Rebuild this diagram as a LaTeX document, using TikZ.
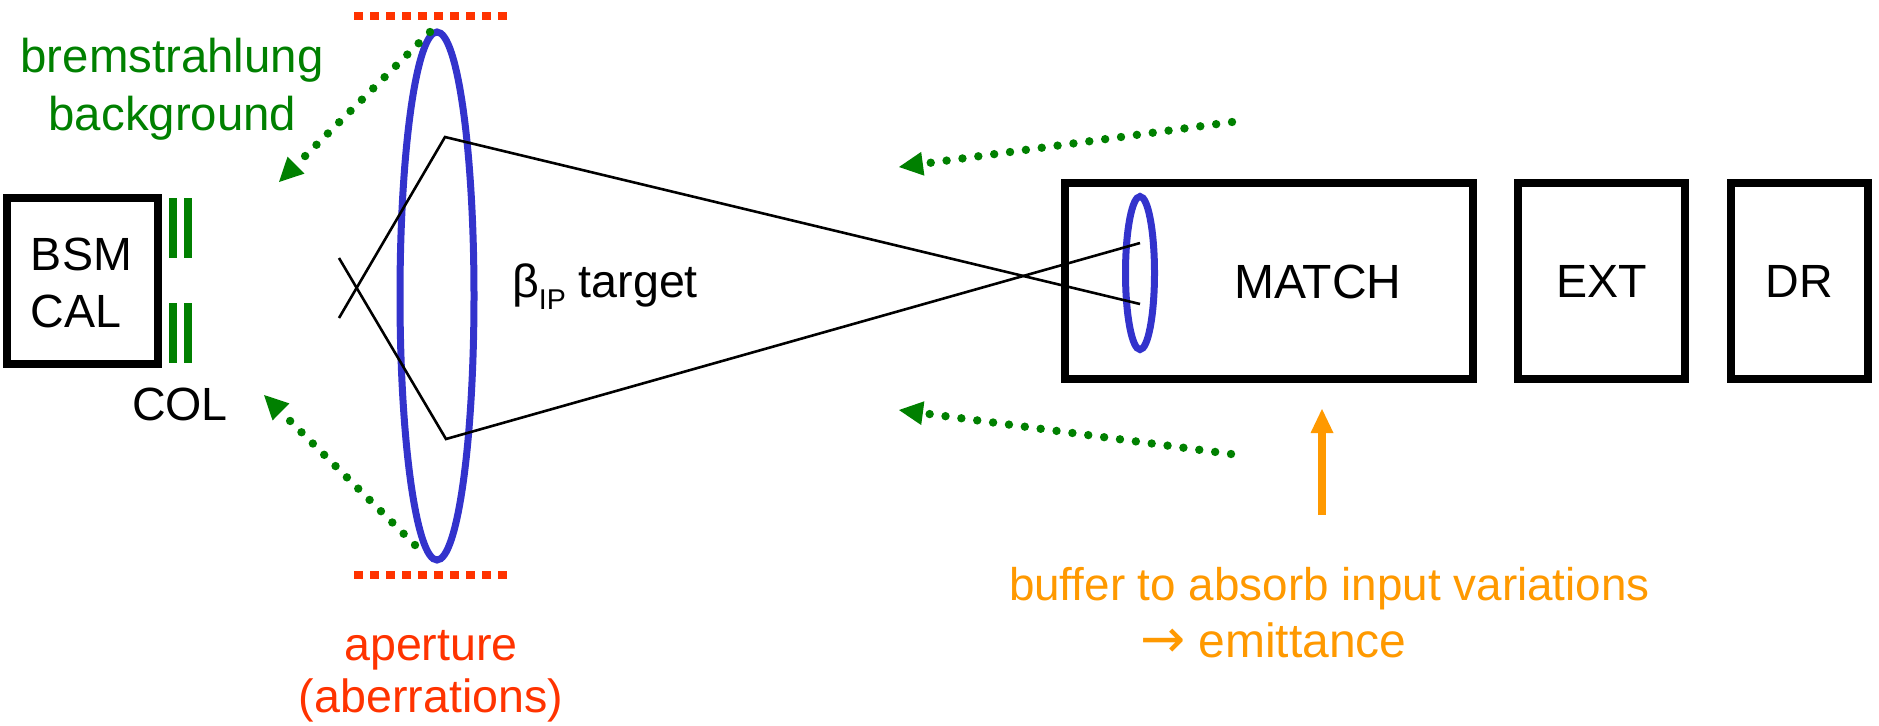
\documentclass[tikz,border=0pt]{standalone}
\usepackage{fontspec}
\setmainfont{Liberation Sans}
\newfontfamily\arrowfont{DejaVu Sans}
\usetikzlibrary{arrows.meta,shapes.geometric}

\definecolor{lensblue}{HTML}{3333CC}
\definecolor{bremgreen}{HTML}{008000}
\definecolor{apred}{HTML}{FF3300}
\definecolor{buforange}{HTML}{FF9900}

\tikzset{
  lbl/.style={inner sep=0pt, outer sep=0pt, font=\fontsize{23.3}{28}\selectfont},
  block/.style={draw, line width=4pt, inner sep=0pt, outer sep=0pt, font=\fontsize{23.3}{28}\selectfont},
  lens/.style={draw=lensblue, line width=3.5pt, ellipse, inner sep=0pt, outer sep=0pt},
  beam/.style={line width=1.3pt, line join=miter},
  apdots/.style={draw=apred, line width=4pt, dash pattern=on 4.5pt off 3.5pt},
  bremarrow/.style={draw=bremgreen, line width=4.2pt, line cap=round,
    dash pattern=on 0pt off 8pt,
    -{Triangle[length=12pt,width=12pt,line width=0pt,fill=bremgreen]}},
  colbar/.style={draw=bremgreen, line width=3.75pt},
  bufarrow/.style={draw=buforange, line width=4pt,
    -{Triangle[length=12pt,width=11.5pt,line width=0pt,fill=buforange]}}
}

\begin{document}
\begin{tikzpicture}[x=0.5pt,y=-0.5pt]
\useasboundingbox (0,0) rectangle (1879,725);

% ---- beamline blocks ----
\node[block, minimum width=75.5pt, minimum height=83pt] (bsm) at (82.5,281) {};
\node[lbl, anchor=base west] (bsmtxt) at (31,270) {BSM};
\node[lbl, anchor=base west] (caltxt) at (31,327) {CAL};

\node[block, minimum width=204pt, minimum height=98pt] (match) at (1269,281) {};
\node[lbl, anchor=base, font=\fontsize{24}{28}\selectfont] (matchtxt) at (1318,298) {MATCH};
\node[block, minimum width=83.5pt, minimum height=98pt] (ext) at (1601.5,281) {EXT};
\node[block, minimum width=68.5pt, minimum height=98pt] (dr) at (1799,281) {DR};

% ---- collimator jaws ----
\coordinate (c1a) at (173,198); \coordinate (c1b) at (173,258);
\coordinate (c2a) at (188,198); \coordinate (c2b) at (188,258);
\coordinate (c3a) at (173,303); \coordinate (c3b) at (173,363);
\coordinate (c4a) at (188,303); \coordinate (c4b) at (188,363);
\draw[colbar] (c1a) -- (c1b);
\draw[colbar] (c2a) -- (c2b);
\draw[colbar] (c3a) -- (c3b);
\draw[colbar] (c4a) -- (c4b);
\node[lbl, anchor=base west] (col) at (132,420) {COL};

% ---- final doublet and matching lens ----
\node[lens, minimum width=37pt, minimum height=264pt] (ff) at (437,296) {};
\node[lens, minimum width=14.5pt, minimum height=76.5pt] (ml) at (1140,273) {};

% ---- beam envelope ----
\coordinate (b1s) at (339,318); \coordinate (k1) at (445,137); \coordinate (b1e) at (1140,304);
\coordinate (b2s) at (339,258); \coordinate (k2) at (446,439); \coordinate (b2e) at (1140,243);
\draw[beam] (b1s) -- (k1) -- (b1e);
\draw[beam] (b2s) -- (k2) -- (b2e);

\node[lbl, anchor=base west] (beta) at (512,297)
  {β\raisebox{-6pt}{\fontsize{14.3}{16}\selectfont IP} target};

% ---- aperture limits ----
\coordinate (apt1) at (354,16);  \coordinate (apt2) at (508,16);
\coordinate (apb1) at (354,575); \coordinate (apb2) at (508,575);
\draw[apdots] (apt1) -- (apt2);
\draw[apdots] (apb1) -- (apb2);
\node[lbl, text=apred, anchor=base] (ap1) at (431,660) {aperture};
\node[lbl, text=apred, anchor=base] (ap2) at (431,712) {(aberrations)};

% ---- bremsstrahlung background ----
\coordinate (ul0) at (430,32);   \coordinate (ul1) at (279,182);
\coordinate (ll0) at (415,545);  \coordinate (ll1) at (264,395);
\coordinate (ur0) at (1232,122); \coordinate (ur1) at (899,167);
\coordinate (lr0) at (1231,454); \coordinate (lr1) at (899,410);
\draw[bremarrow] (ul0) -- (ul1);
\draw[bremarrow] (ll0) -- (ll1);
\draw[bremarrow] (ur0) -- (ur1);
\draw[bremarrow] (lr0) -- (lr1);
\node[lbl, text=bremgreen, anchor=base, font=\fontsize{23.7}{28}\selectfont] (br1) at (172,72) {bremstrahlung};
\node[lbl, text=bremgreen, anchor=base, font=\fontsize{23.7}{28}\selectfont] (br2) at (172.5,130) {background};

% ---- input buffer ----
\coordinate (bf0) at (1322,515); \coordinate (bf1) at (1322,409);
\draw[bufarrow] (bf0) -- (bf1);
\node[lbl, text=buforange, anchor=base west, font=\fontsize{22.9}{28}\selectfont] (bt1) at (1009,600) {buffer to absorb input variations};
\node[lbl, text=buforange, anchor=base west, font=\fontsize{24}{28}\selectfont] (bt2) at (1140,657)
  {{\arrowfont\fontsize{27}{28}\selectfont →} emittance};
\end{tikzpicture}
\end{document}
